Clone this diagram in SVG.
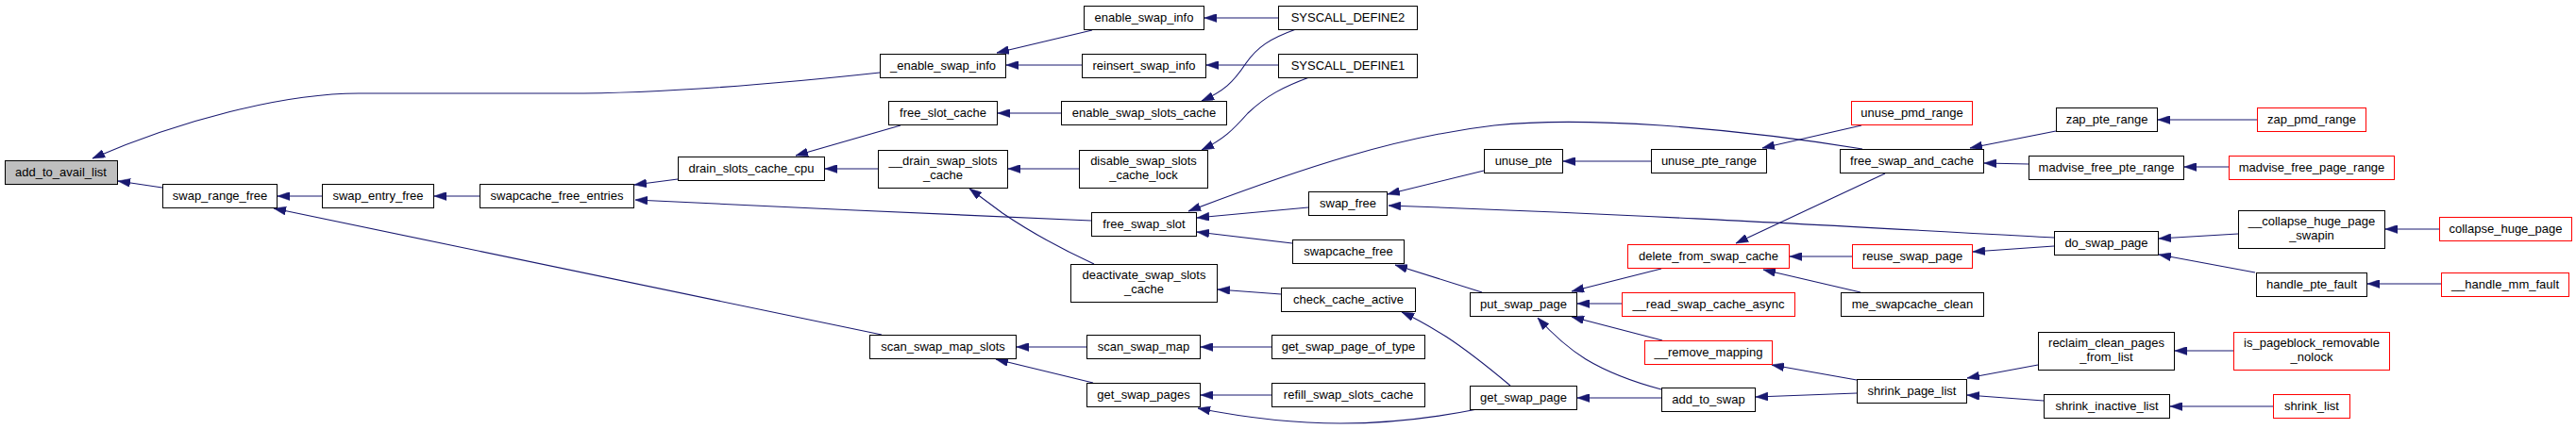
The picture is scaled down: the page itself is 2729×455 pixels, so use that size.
<svg xmlns="http://www.w3.org/2000/svg" width="2729" height="455" viewBox="0 0 2729 455">
<style>
.n rect{fill:#fff;stroke:#000;stroke-width:1}
.r rect{fill:#fff;stroke:#f00;stroke-width:1}
.g rect{fill:#bfbfbf;stroke:#000;stroke-width:1}
text{font-family:"Liberation Sans",Arial,sans-serif;font-size:13px;text-anchor:middle;fill:#000}
#edges path{fill:none;stroke:#191970;stroke-width:1.1;marker-end:url(#ah)}
</style>
<defs>
<marker id="ah" markerUnits="userSpaceOnUse" markerWidth="13" markerHeight="9" viewBox="0 0 13 9" refX="13" refY="4.5" orient="auto">
<path d="M0,0 L13,4.5 L0,9 z" fill="#191970" stroke="#191970" stroke-width="0.5"/>
</marker>
</defs>
<rect width="2729" height="455" fill="#fff"/>
<g id="edges">
<path d="M932,77 C850,86 720,99 600,99 L380,99 C300,99 190,128 98,168"/>
<path d="M172,199 L125,192"/>
<path d="M341,208 L294,208"/>
<path d="M934,355 L290,221"/>
<path d="M508,208 L460,208"/>
<path d="M718,190 L672,196"/>
<path d="M1156,234 C1050,230 800,218 673,212"/>
<path d="M954,133 L843,165"/>
<path d="M930,179 L874,179"/>
<path d="M1157,32 L1056,56"/>
<path d="M1146,69 L1066,69"/>
<path d="M1354,19 L1276,19"/>
<path d="M1354,69 L1278,69"/>
<path d="M1373,31 C1345,41 1332,50 1320,67 C1306,88 1296,97 1273,107"/>
<path d="M1387,82 C1360,92 1342,101 1322,120 C1306,138 1296,148 1273,159"/>
<path d="M1124,120 L1057,120"/>
<path d="M1143,179 L1068,179"/>
<path d="M1159,280 C1120,262 1090,245 1062,226 L1027,200"/>
<path d="M1973,158 C1900,146 1830,138 1760,133 C1700,129 1640,127 1583,133 C1480,145 1380,178 1259,224"/>
<path d="M1386,220 L1268,231"/>
<path d="M1369,258 L1268,246"/>
<path d="M1357,312 L1290,307"/>
<path d="M1151,368 L1077,368"/>
<path d="M1158,406 L1055,381"/>
<path d="M1347,368 L1272,368"/>
<path d="M1347,419 L1272,419"/>
<path d="M1565,434 C1520,443 1470,449 1420,449 C1370,449 1320,443 1269,433"/>
<path d="M1600,409 C1575,388 1555,372 1532,357 C1516,347 1503,339 1485,331"/>
<path d="M1572,181 L1470,206"/>
<path d="M2176,252 C1900,237 1700,226 1471,218"/>
<path d="M1570,310 L1478,281"/>
<path d="M1760,285 L1665,309"/>
<path d="M1718,322 L1671,322"/>
<path d="M1761,361 L1665,336"/>
<path d="M1760,413 C1730,405 1705,396 1680,381 C1664,371 1648,358 1629,337"/>
<path d="M1760,422 L1671,422"/>
<path d="M1749,171 L1656,171"/>
<path d="M1972,133 L1867,157"/>
<path d="M1997,184 L1839,258"/>
<path d="M1962,272 L1896,272"/>
<path d="M1971,310 L1868,286"/>
<path d="M2176,261 L2090,267"/>
<path d="M2178,139 L2087,157"/>
<path d="M2149,174 L2102,173"/>
<path d="M2391,127 L2286,127"/>
<path d="M2361,177 L2314,177"/>
<path d="M2371,248 L2287,253"/>
<path d="M2389,289 L2287,270"/>
<path d="M2584,243 L2527,243"/>
<path d="M2586,301 L2508,301"/>
<path d="M1967,403 L1877,387"/>
<path d="M1967,417 L1860,421"/>
<path d="M2159,387 L2084,401"/>
<path d="M2165,425 L2084,419"/>
<path d="M2366,372 L2304,372"/>
<path d="M2408,431 L2299,431"/>
</g>
<g id="add_to_avail_list" class="g"><rect x="5.5" y="170.5" width="119" height="25"/><text x="64.5" y="187">add_to_avail_list</text></g>
<g id="swap_range_free" class="n"><rect x="172.5" y="195.5" width="121" height="25"/><text x="233" y="212">swap_range_free</text></g>
<g id="swap_entry_free" class="n"><rect x="341.5" y="195.5" width="118" height="25"/><text x="400.5" y="212">swap_entry_free</text></g>
<g id="swapcache_free_entries" class="n"><rect x="508.5" y="195.5" width="163" height="25"/><text x="590" y="212">swapcache_free_entries</text></g>
<g id="drain_slots_cache_cpu" class="n"><rect x="718.5" y="166.5" width="155" height="25"/><text x="796" y="183">drain_slots_cache_cpu</text></g>
<g id="_enable_swap_info" class="n"><rect x="932.5" y="57.5" width="133" height="25"/><text x="999" y="74">_enable_swap_info</text></g>
<g id="free_slot_cache" class="n"><rect x="941.5" y="107.5" width="115" height="25"/><text x="999" y="124">free_slot_cache</text></g>
<g id="__drain_swap_slots_cache" class="n"><rect x="930.5" y="159.5" width="137" height="40"/><text x="999" y="175">__drain_swap_slots</text><text x="999" y="190">_cache</text></g>
<g id="scan_swap_map_slots" class="n"><rect x="921.5" y="355.5" width="155" height="25"/><text x="999" y="372">scan_swap_map_slots</text></g>
<g id="enable_swap_info" class="n"><rect x="1148.5" y="6.5" width="127" height="25"/><text x="1212" y="23">enable_swap_info</text></g>
<g id="reinsert_swap_info" class="n"><rect x="1146.5" y="57.5" width="131" height="25"/><text x="1212" y="74">reinsert_swap_info</text></g>
<g id="enable_swap_slots_cache" class="n"><rect x="1124.5" y="107.5" width="175" height="25"/><text x="1212" y="124">enable_swap_slots_cache</text></g>
<g id="disable_swap_slots_cache_lock" class="n"><rect x="1143.5" y="159.5" width="136" height="40"/><text x="1211.5" y="175">disable_swap_slots</text><text x="1211.5" y="190">_cache_lock</text></g>
<g id="free_swap_slot" class="n"><rect x="1156.5" y="225.5" width="111" height="25"/><text x="1212" y="242">free_swap_slot</text></g>
<g id="deactivate_swap_slots_cache" class="n"><rect x="1134.5" y="280.5" width="155" height="40"/><text x="1212" y="296">deactivate_swap_slots</text><text x="1212" y="311">_cache</text></g>
<g id="scan_swap_map" class="n"><rect x="1151.5" y="355.5" width="120" height="25"/><text x="1211.5" y="372">scan_swap_map</text></g>
<g id="get_swap_pages" class="n"><rect x="1151.5" y="406.5" width="120" height="25"/><text x="1211.5" y="423">get_swap_pages</text></g>
<g id="SYSCALL_DEFINE2" class="n"><rect x="1354.5" y="6.5" width="147" height="25"/><text x="1428" y="23">SYSCALL_DEFINE2</text></g>
<g id="SYSCALL_DEFINE1" class="n"><rect x="1354.5" y="57.5" width="147" height="25"/><text x="1428" y="74">SYSCALL_DEFINE1</text></g>
<g id="swap_free" class="n"><rect x="1386.5" y="203.5" width="83" height="25"/><text x="1428" y="220">swap_free</text></g>
<g id="swapcache_free" class="n"><rect x="1369.5" y="254.5" width="118" height="25"/><text x="1428.5" y="271">swapcache_free</text></g>
<g id="check_cache_active" class="n"><rect x="1357.5" y="305.5" width="142" height="25"/><text x="1428.5" y="322">check_cache_active</text></g>
<g id="get_swap_page_of_type" class="n"><rect x="1347.5" y="355.5" width="162" height="25"/><text x="1428.5" y="372">get_swap_page_of_type</text></g>
<g id="refill_swap_slots_cache" class="n"><rect x="1347.5" y="406.5" width="162" height="25"/><text x="1428.5" y="423">refill_swap_slots_cache</text></g>
<g id="unuse_pte" class="n"><rect x="1572.5" y="158.5" width="83" height="25"/><text x="1614" y="175">unuse_pte</text></g>
<g id="put_swap_page" class="n"><rect x="1557.5" y="310.5" width="113" height="25"/><text x="1614" y="327">put_swap_page</text></g>
<g id="get_swap_page" class="n"><rect x="1557.5" y="409.5" width="113" height="25"/><text x="1614" y="426">get_swap_page</text></g>
<g id="unuse_pte_range" class="n"><rect x="1749.5" y="158.5" width="122" height="25"/><text x="1810.5" y="175">unuse_pte_range</text></g>
<g id="delete_from_swap_cache" class="r"><rect x="1724.5" y="259.5" width="171" height="25"/><text x="1810" y="276">delete_from_swap_cache</text></g>
<g id="__read_swap_cache_async" class="r"><rect x="1718.5" y="310.5" width="183" height="25"/><text x="1810" y="327">__read_swap_cache_async</text></g>
<g id="__remove_mapping" class="r"><rect x="1742.5" y="361.5" width="135" height="25"/><text x="1810" y="378">__remove_mapping</text></g>
<g id="add_to_swap" class="n"><rect x="1760.5" y="411.5" width="99" height="25"/><text x="1810" y="428">add_to_swap</text></g>
<g id="unuse_pmd_range" class="r"><rect x="1961.5" y="107.5" width="128" height="25"/><text x="2025.5" y="124">unuse_pmd_range</text></g>
<g id="free_swap_and_cache" class="n"><rect x="1949.5" y="158.5" width="152" height="25"/><text x="2025.5" y="175">free_swap_and_cache</text></g>
<g id="reuse_swap_page" class="r"><rect x="1962.5" y="259.5" width="127" height="25"/><text x="2026" y="276">reuse_swap_page</text></g>
<g id="me_swapcache_clean" class="n"><rect x="1950.5" y="310.5" width="151" height="25"/><text x="2026" y="327">me_swapcache_clean</text></g>
<g id="shrink_page_list" class="n"><rect x="1967.5" y="402.5" width="116" height="25"/><text x="2025.5" y="419">shrink_page_list</text></g>
<g id="zap_pte_range" class="n"><rect x="2178.5" y="114.5" width="107" height="25"/><text x="2232" y="131">zap_pte_range</text></g>
<g id="madvise_free_pte_range" class="n"><rect x="2149.5" y="165.5" width="164" height="25"/><text x="2231.5" y="182">madvise_free_pte_range</text></g>
<g id="do_swap_page" class="n"><rect x="2176.5" y="245.5" width="110" height="25"/><text x="2231.5" y="262">do_swap_page</text></g>
<g id="reclaim_clean_pages_from_list" class="n"><rect x="2159.5" y="352.5" width="144" height="40"/><text x="2231.5" y="368">reclaim_clean_pages</text><text x="2231.5" y="383">_from_list</text></g>
<g id="shrink_inactive_list" class="n"><rect x="2165.5" y="418.5" width="133" height="25"/><text x="2232" y="435">shrink_inactive_list</text></g>
<g id="zap_pmd_range" class="r"><rect x="2391.5" y="114.5" width="115" height="25"/><text x="2449" y="131">zap_pmd_range</text></g>
<g id="madvise_free_page_range" class="r"><rect x="2361.5" y="165.5" width="175" height="25"/><text x="2449" y="182">madvise_free_page_range</text></g>
<g id="__collapse_huge_page_swapin" class="n"><rect x="2371.5" y="223.5" width="155" height="40"/><text x="2449" y="239">__collapse_huge_page</text><text x="2449" y="254">_swapin</text></g>
<g id="handle_pte_fault" class="n"><rect x="2390.5" y="289.5" width="117" height="25"/><text x="2449" y="306">handle_pte_fault</text></g>
<g id="is_pageblock_removable_nolock" class="r"><rect x="2366.5" y="352.5" width="165" height="40"/><text x="2449" y="368">is_pageblock_removable</text><text x="2449" y="383">_nolock</text></g>
<g id="shrink_list" class="r"><rect x="2408.5" y="418.5" width="81" height="25"/><text x="2449" y="435">shrink_list</text></g>
<g id="collapse_huge_page" class="r"><rect x="2584.5" y="230.5" width="140" height="25"/><text x="2654.5" y="247">collapse_huge_page</text></g>
<g id="__handle_mm_fault" class="r"><rect x="2586.5" y="289.5" width="135" height="25"/><text x="2654" y="306">__handle_mm_fault</text></g>
</svg>
